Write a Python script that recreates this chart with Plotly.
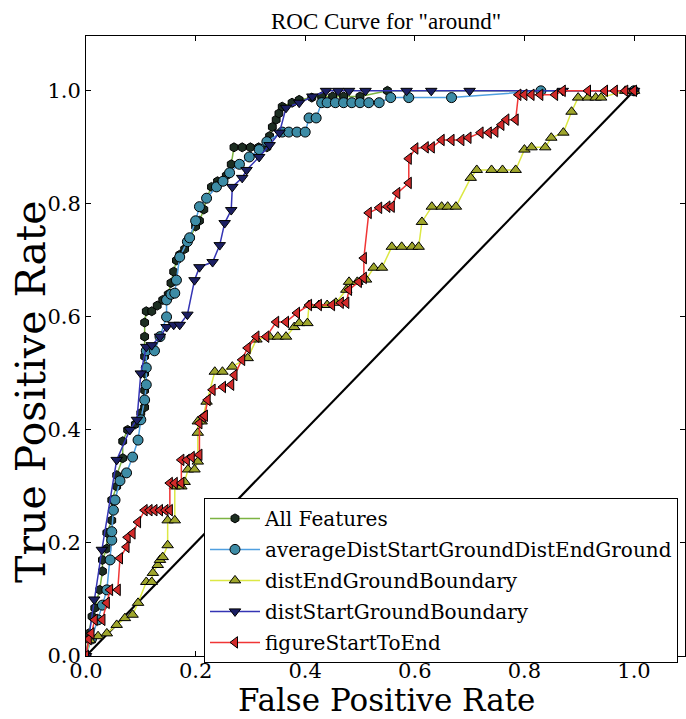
import plotly.graph_objects as go

# ROC points (false positive rate, true positive rate) for each feature set
all_fpr = [0.0, 0.005, 0.011, 0.016, 0.025, 0.03, 0.03, 0.038, 0.038, 0.047, 0.047, 0.056, 0.056,
           0.067, 0.067, 0.076, 0.09, 0.1, 0.107, 0.107, 0.107, 0.107, 0.107, 0.107, 0.11, 0.12,
           0.13, 0.14, 0.15, 0.155, 0.16, 0.165, 0.171, 0.18, 0.19, 0.2, 0.207, 0.215, 0.22, 0.229,
           0.24, 0.256, 0.265, 0.27, 0.285, 0.3, 0.315, 0.33, 0.335, 0.34, 0.347, 0.352, 0.358,
           0.376, 0.389, 0.412, 0.43, 0.45, 0.47, 0.5, 0.55, 1.0]
all_tpr = [0.0, 0.04, 0.07, 0.085, 0.117, 0.15, 0.17, 0.19, 0.218, 0.24, 0.276, 0.3, 0.32,
           0.35, 0.38, 0.4, 0.41, 0.43, 0.44, 0.47, 0.5, 0.53, 0.565, 0.59, 0.61, 0.61,
           0.62, 0.63, 0.64, 0.66, 0.68, 0.7, 0.71, 0.72, 0.74, 0.76, 0.77, 0.79, 0.81, 0.83,
           0.84, 0.85, 0.87, 0.9, 0.9, 0.9, 0.9, 0.9, 0.92, 0.936, 0.949, 0.96, 0.972,
           0.979, 0.984, 0.988, 0.99, 0.99, 0.99, 0.99, 1.0, 1.0]

avg_fpr = [0.0, 0.01, 0.022, 0.03, 0.038, 0.044, 0.047, 0.047, 0.05, 0.053, 0.062, 0.074, 0.085,
           0.095, 0.1, 0.107, 0.11, 0.11, 0.11, 0.125, 0.135, 0.147, 0.147, 0.155, 0.162, 0.165,
           0.171, 0.185, 0.189, 0.2, 0.207, 0.22, 0.238, 0.25, 0.262, 0.28, 0.298, 0.316, 0.33,
           0.358, 0.37, 0.385, 0.4, 0.407, 0.42, 0.43, 0.44, 0.455, 0.47, 0.485, 0.5, 0.516,
           0.535, 0.556, 0.589, 0.667, 0.83, 1.0]
avg_tpr = [0.0, 0.03, 0.064, 0.09, 0.117, 0.17, 0.205, 0.22, 0.258, 0.276, 0.31, 0.324, 0.352,
           0.382, 0.418, 0.453, 0.48, 0.51, 0.54, 0.54, 0.565, 0.6, 0.63, 0.64, 0.642, 0.665,
           0.706, 0.733, 0.74, 0.77, 0.795, 0.81, 0.83, 0.84, 0.855, 0.87, 0.883, 0.896, 0.91,
           0.927, 0.927, 0.927, 0.927, 0.952, 0.952, 0.979, 0.979, 0.979, 0.979, 0.979, 0.979, 0.979,
           0.979, 0.988, 0.988, 0.988, 1.0, 1.0]

end_fpr = [0.0, 0.007, 0.022, 0.038, 0.056, 0.071, 0.085, 0.095, 0.11, 0.12, 0.122, 0.131, 0.135,
           0.14, 0.149, 0.149, 0.162, 0.162, 0.174, 0.18, 0.186, 0.198, 0.204, 0.204, 0.204, 0.211,
           0.22, 0.235, 0.249, 0.267, 0.295, 0.311, 0.335, 0.35, 0.365, 0.38, 0.389, 0.404, 0.407,
           0.425, 0.44, 0.456, 0.475, 0.48, 0.495, 0.511, 0.525, 0.54, 0.558, 0.576, 0.595, 0.607,
           0.613, 0.631, 0.649, 0.66, 0.675, 0.702, 0.713, 0.74, 0.76, 0.784, 0.8, 0.813, 0.838,
           0.849, 0.871, 0.886, 0.898, 0.916, 0.93, 0.94, 0.984, 1.0]
end_tpr = [0.0, 0.028, 0.035, 0.04, 0.055, 0.067, 0.073, 0.094, 0.131, 0.131, 0.147, 0.161, 0.17,
           0.175, 0.196, 0.24, 0.24, 0.3, 0.3, 0.308, 0.33, 0.33, 0.344, 0.395, 0.415, 0.415,
           0.45, 0.503, 0.503, 0.512, 0.527, 0.56, 0.565, 0.565, 0.565, 0.582, 0.589, 0.589, 0.621,
           0.621, 0.621, 0.625, 0.648, 0.662, 0.662, 0.666, 0.687, 0.687, 0.724, 0.724, 0.724, 0.724,
           0.768, 0.795, 0.795, 0.795, 0.795, 0.846, 0.86, 0.86, 0.86, 0.86, 0.896, 0.9, 0.9,
           0.917, 0.926, 0.963, 0.988, 0.988, 0.988, 0.988, 1.0, 1.0]

start_fpr = [0.0, 0.015, 0.029, 0.056, 0.08, 0.093, 0.1, 0.11, 0.12, 0.135, 0.147, 0.16, 0.171,
             0.185, 0.198, 0.207, 0.231, 0.244, 0.253, 0.265, 0.267, 0.285, 0.293, 0.316, 0.335,
             0.353, 0.365, 0.389, 0.413, 0.438, 0.46, 0.48, 0.51, 0.585, 0.63, 0.7, 0.87, 1.0]
start_tpr = [0.0, 0.1, 0.188, 0.347, 0.4, 0.418, 0.5, 0.547, 0.55, 0.565, 0.582, 0.586, 0.586,
             0.604, 0.665, 0.688, 0.697, 0.727, 0.766, 0.789, 0.83, 0.846, 0.86, 0.883, 0.904,
             0.926, 0.97, 0.979, 0.99, 1.0, 1.0, 1.0, 1.0, 1.0, 1.0, 1.0, 1.0, 1.0]

fig_fpr = [0.0, 0.005, 0.01, 0.016, 0.03, 0.038, 0.044, 0.058, 0.062, 0.074, 0.076, 0.085, 0.095,
           0.107, 0.116, 0.125, 0.135, 0.145, 0.153, 0.153, 0.162, 0.174, 0.174, 0.184, 0.193,
           0.207, 0.207, 0.213, 0.217, 0.222, 0.231, 0.25, 0.265, 0.271, 0.285, 0.295, 0.311,
           0.329, 0.347, 0.365, 0.385, 0.407, 0.425, 0.449, 0.465, 0.475, 0.48, 0.498, 0.507,
           0.507, 0.516, 0.535, 0.55, 0.558, 0.568, 0.589, 0.589, 0.601, 0.62, 0.631, 0.649,
           0.667, 0.685, 0.698, 0.72, 0.735, 0.747, 0.758, 0.767, 0.784, 0.789, 0.8, 0.813,
           0.829, 0.856, 0.87, 0.916, 0.947, 0.965, 0.984, 1.0]
fig_tpr = [0.0, 0.03, 0.04, 0.064, 0.064, 0.094, 0.117, 0.117, 0.173, 0.193, 0.21, 0.217, 0.237,
           0.258, 0.258, 0.258, 0.258, 0.258, 0.258, 0.306, 0.306, 0.306, 0.347, 0.347, 0.352,
           0.356, 0.412, 0.423, 0.425, 0.453, 0.471, 0.476, 0.48, 0.497, 0.524, 0.545, 0.565,
           0.565, 0.591, 0.591, 0.607, 0.621, 0.621, 0.621, 0.625, 0.625, 0.648, 0.662, 0.669,
           0.704, 0.784, 0.793, 0.795, 0.795, 0.819, 0.837, 0.88, 0.898, 0.9, 0.9, 0.913,
           0.913, 0.913, 0.917, 0.926, 0.926, 0.928, 0.94, 0.949, 0.949, 0.993, 0.993, 0.993,
           0.993, 0.993, 1.0, 1.0, 1.0, 1.0, 1.0, 1.0]

chance = [0.0, 1.0]

tick_vals = [0.0, 0.2, 0.4, 0.6, 0.8, 1.0]

SERIF = "DejaVu Serif"

series = [
    ("All Features", all_fpr, all_tpr, "hexagon", 9, "#1c2e22", "#7cb342"),
    ("averageDistStartGroundDistEndGround", avg_fpr, avg_tpr, "circle", 10, "#3d8ca6", "#4f9fe0"),
    ("distEndGroundBoundary", end_fpr, end_tpr, "triangle-up", 10, "#9fa62c", "#dce845"),
    ("distStartGroundBoundary", start_fpr, start_tpr, "triangle-down", 10, "#1b1f63", "#3434b4"),
    ("figureStartToEnd", fig_fpr, fig_tpr, "triangle-left", 10, "#d22a2a", "#f03535"),
]

fig = go.Figure()

# chance diagonal
fig.add_trace(go.Scatter(x=chance, y=chance, mode="lines",
                         line=dict(color="black", width=2.2),
                         showlegend=False, hoverinfo="skip"))

for i, (name, xs, ys, sym, size, mcol, lcol) in enumerate(series):
    fig.add_trace(go.Scatter(
        x=xs, y=ys, mode="lines+markers", name=name,
        legendgroup=f"g{i}",
        line=dict(color=lcol, width=1.5),
        marker=dict(symbol=sym, size=size, color=mcol,
                    line=dict(color="black", width=1)),
    ))

axis_common = dict(
    tickvals=tick_vals, tickformat=".1f",
    ticks="inside", ticklen=5, tickwidth=1, tickcolor="black",
    showline=True, linecolor="black", linewidth=1, mirror="ticks",
    showgrid=False, zeroline=False,
    tickfont=dict(family=SERIF, size=21, color="black"),
)

fig.update_xaxes(range=[0, 1.093], ticklabelstandoff=-4, **axis_common)
fig.update_yaxes(range=[0, 1.097], **axis_common)

fig.update_layout(
    width=686, height=719,
    margin=dict(l=86, r=1, t=36, b=63),
    paper_bgcolor="white", plot_bgcolor="white",
    showlegend=True,
    legend=dict(
        x=0.197, y=0.255, xanchor="left", yanchor="top",
        bgcolor="white", bordercolor="black", borderwidth=1,
        font=dict(family=SERIF, size=20, color="black"),
        tracegroupgap=2, itemwidth=50,
    ),
    annotations=[
        dict(text='ROC Curve for "around"', xref="paper", yref="paper",
             x=0.5, y=1.0226, xanchor="center", yanchor="middle", showarrow=False,
             font=dict(family="Liberation Serif", size=23, color="black")),
        dict(text="False Positive Rate", xref="paper", yref="paper",
             x=0.502, y=-0.0715, xanchor="center", yanchor="middle", showarrow=False,
             font=dict(family=SERIF, size=31, color="black")),
        dict(text="True Positive Rate", xref="paper", yref="paper",
             x=-0.0918, y=0.426, xanchor="center", yanchor="middle", showarrow=False,
             textangle=-90,
             font=dict(family=SERIF, size=41, color="black")),
    ],
)

fig.write_html("out.html")
